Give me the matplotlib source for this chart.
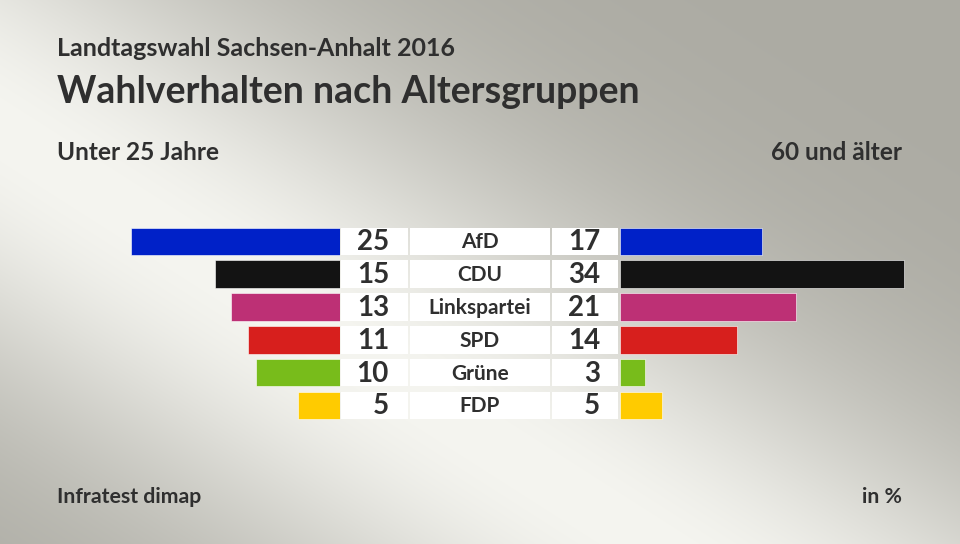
import numpy as np
import matplotlib
matplotlib.use("Agg")
import matplotlib.pyplot as plt

# ---- data ----
parties = ["AfD", "CDU", "Linkspartei", "SPD", "Grüne", "FDP"]
under25 = [25, 15, 13, 11, 10, 5]
over60 = [17, 34, 21, 14, 3, 5]
colors = ["#0021c8", "#131313", "#bd3075", "#d71f1d", "#78bc1b", "#ffcb00"]

title_small = "Landtagswahl Sachsen-Anhalt 2016"
title_big = "Wahlverhalten nach Altersgruppen"
left_head = "Unter 25 Jahre"
right_head = "60 und älter"
source = "Infratest dimap"
unit = "in %"

FONT = ["Lato", "DejaVu Sans"]
TXT = "#2f2f2f"

W, H = 960, 544
fig = plt.figure(figsize=(W / 100, H / 100), dpi=100)

# ---- background gradient ----
bg = fig.add_axes([0, 0, 1, 1])
yy, xx = np.mgrid[0:H, 0:W]
p0 = np.array([80.0, 180.0])
p1 = np.array([650.0, 544.0])
d = p1 - p0
d = d / np.hypot(*d)
nx, ny = -d[1], d[0]
dist = (xx - p0[0]) * nx + (yy - p0[1]) * ny
t = np.exp(-(dist / 230.0) ** 2)
light = np.array([245, 245, 240]) / 255.0
dark = np.array([172, 171, 163]) / 255.0
img = dark[None, None, :] + (light - dark)[None, None, :] * t[..., None]
bg.imshow(img, extent=(0, W, H, 0), aspect="auto", interpolation="bilinear")
bg.set_xlim(0, W)
bg.set_ylim(H, 0)
bg.axis("off")

def fx(px):
    return px / W

def fy(py):
    return 1 - py / H

# rows geometry
row_top, row_h = 225.0, 32.8
n = len(parties)
ax_bottom_px = row_top + n * row_h
scale = 8.36  # px per percentage point

# ---- left bars ----
lx0, lx1 = 100, 340
axl = fig.add_axes([fx(lx0), fy(ax_bottom_px), fx(lx1 - lx0), (n * row_h) / H])
y = np.arange(n)
axl.barh(y, under25, height=0.84, color=colors, edgecolor="white", linewidth=0.4)
axl.set_xlim((lx1 - lx0) / scale, 0)
axl.set_ylim(n - 0.5, -0.5)
axl.axis("off")

# ---- right bars ----
rx0, rx1 = 620, 940
axr = fig.add_axes([fx(rx0), fy(ax_bottom_px), fx(rx1 - rx0), (n * row_h) / H])
axr.barh(y, over60, height=0.84, color=colors, edgecolor="white", linewidth=0.4)
axr.set_xlim(0, (rx1 - rx0) / scale)
axr.set_ylim(n - 0.5, -0.5)
axr.axis("off")

# ---- center boxes and labels ----
cx0, cx1 = 340, 620
axc = fig.add_axes([fx(cx0), fy(ax_bottom_px), fx(cx1 - cx0), (n * row_h) / H])
axc.set_xlim(cx0, cx1)
axc.set_ylim(n - 0.5, -0.5)
axc.axis("off")
for left, width in [(341, 67), (410, 140), (552, 66)]:
    axc.barh(y, [width] * n, left=left, height=0.84, color="white", linewidth=0)
for i in range(n):
    axc.text(389, i + 0.03, str(under25[i]), ha="right", va="center",
             fontsize=20, fontweight="bold", color=TXT, family=FONT)
    axc.text(480, i + 0.03, parties[i], ha="center", va="center",
             fontsize=15, fontweight="bold", color=TXT, family=FONT)
    axc.text(600, i + 0.03, str(over60[i]), ha="right", va="center",
             fontsize=20, fontweight="bold", color=TXT, family=FONT)

# ---- titles ----
fig.text(fx(57), fy(48), title_small, ha="left", va="center",
         fontsize=18, fontweight="bold", color=TXT, family=FONT)
fig.text(fx(57), fy(92), title_big, ha="left", va="center",
         fontsize=27, fontweight="bold", color=TXT, family=FONT)
fig.text(fx(57), fy(153), left_head, ha="left", va="center",
         fontsize=17.6, fontweight="bold", color=TXT, family=FONT)
fig.text(fx(902), fy(153), right_head, ha="right", va="center",
         fontsize=17.6, fontweight="bold", color=TXT, family=FONT)
fig.text(fx(57), fy(497), source, ha="left", va="center",
         fontsize=15.3, fontweight="bold", color=TXT, family=FONT)
fig.text(fx(902), fy(497), unit, ha="right", va="center",
         fontsize=15.3, fontweight="bold", color=TXT, family=FONT)

fig.savefig("out.png", dpi=100)
